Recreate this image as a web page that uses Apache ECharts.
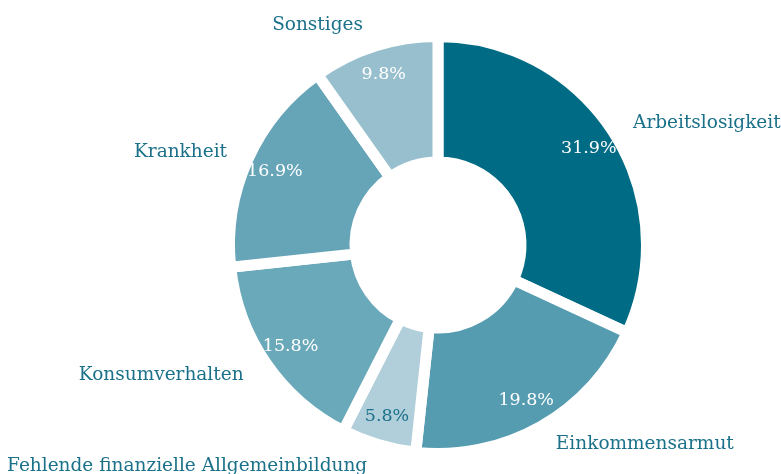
<!DOCTYPE html>
<html><head><meta charset="utf-8">
<script src="https://cdn.jsdelivr.net/npm/echarts@6/dist/echarts.min.js"></script>
<style>html,body{margin:0;padding:0;background:#fff}#c{width:781px;height:474px}</style>
</head><body><div id="c"></div>
<script>
const categories = ['Arbeitslosigkeit','Einkommensarmut','Fehlende finanzielle Allgemeinbildung','Konsumverhalten','Krankheit','Sonstiges'];
const values = [31.9,19.8,5.8,15.8,16.9,9.8];
const colors = ['#006b84','#559cb0','#b1cfdb','#6aa9ba','#66a4b7','#97bfcd'];
const pctColors = ['#ffffff','#ffffff','#1a7189','#ffffff','#ffffff','#ffffff'];
const labelGap = [17, 20.5, 22.5, 21.5, 17.5, 22.5];
const font = 'Georgia, "DejaVu Serif", serif';
const chart = echarts.init(document.getElementById('c'));
const center = [438,245];
chart.setOption({
  animation:false,
  series:[{
    type:'pie', center:center, radius:[83,208.5], startAngle:90, clockwise:true,
    avoidLabelOverlap:false, silent:true,
    itemStyle:{borderColor:'#fff',borderWidth:11,borderJoin:'miter'},
    label:{show:true,position:'outside',formatter:'{b}',color:'#1a7189',fontFamily:font,fontSize:18.5},
    labelLine:{show:false,length:17.5,length2:0},
    data:categories.map((n,i)=>({name:n,value:values[i],itemStyle:{color:colors[i]},labelLine:{show:false,length:labelGap[i],length2:0}}))
  },{
    type:'pie', center:center, radius:[149,203], startAngle:90, clockwise:true,
    avoidLabelOverlap:false, silent:true,
    itemStyle:{color:'rgba(0,0,0,0)',borderWidth:0},
    label:{show:true,position:'inside',fontFamily:font,fontSize:17.5,
      formatter:p=>p.value.toFixed(1)+'%'},
    labelLine:{show:false},
    data:categories.map((n,i)=>({name:n,value:values[i],label:{color:pctColors[i]}}))
  }]
});
</script></body></html>
